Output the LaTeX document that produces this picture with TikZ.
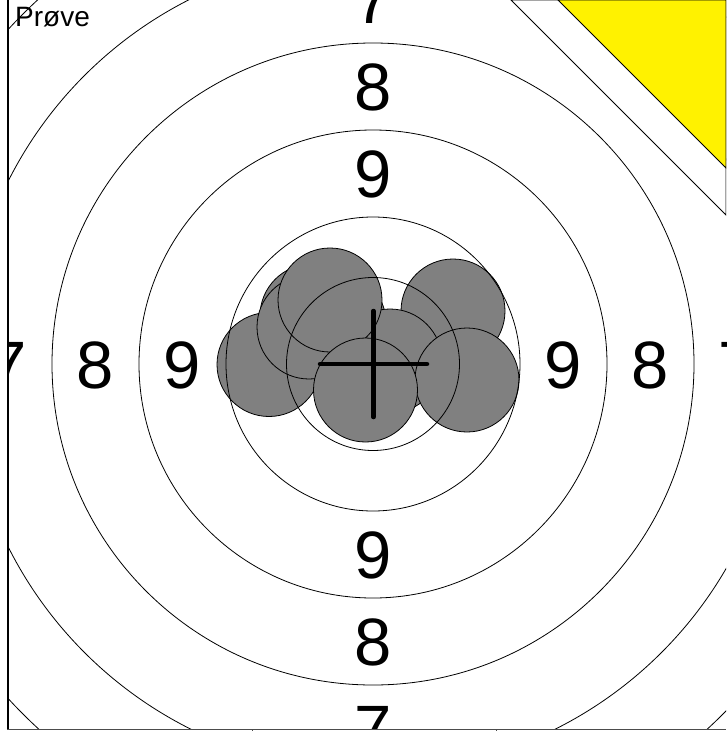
\documentclass[tikz,border=0pt]{standalone}
\usepackage{fontspec}
\setmainfont{Liberation Sans}
\begin{document}
\begin{tikzpicture}[x=1pt,y=-1pt,
  ring/.style={draw=black,line width=0.8pt},
  shot/.style={fill=gray,draw=black,line width=0.8pt},
  score/.style={anchor=base,inner sep=0pt,font=\fontsize{67}{67}\selectfont},
  crossline/.style={line width=4.5pt,line cap=round},
  cornerband/.style={line width=0.8pt,draw=black}]
\useasboundingbox (0,0) rectangle (726,731);
\begin{scope}
\clip (8,0) rectangle (726,729);
% shots
\foreach \x/\y in {269/364.5, 334/323, 312/316, 309/327, 453/311, 390/361, 467/380, 330/300, 365.5/390}
  \draw[shot] (\x,\y) circle[radius=52];
% rings
\foreach \r in {86.5,147,234,321,408,495}
  \draw[ring] (373,364) circle[radius=\r];
% cross
\coordinate (ct) at (373.5,311);
\coordinate (cb) at (373.5,417);
\coordinate (cl) at (320,364);
\coordinate (cr) at (427,364);
\draw[crossline] (ct) -- (cb);
\draw[crossline] (cl) -- (cr);
% scores
\node[score] (t7) at (373,23.5) {7};
\node[score] (t8) at (373,110.5) {8};
\node[score] (t9) at (373,197.5) {9};
\node[score] (b9) at (373,578.5) {9};
\node[score] (b8) at (373,665.5) {8};
\node[score] (b7) at (373,752.5) {7};
\node[score] (l7) at (8.5,388) {7};
\node[score] (l8) at (95.5,388) {8};
\node[score] (l9) at (182.5,388) {9};
\node[score] (r9) at (563.5,388) {9};
\node[score] (r8) at (650.5,388) {8};
\node[score] (r7) at (737.5,388) {7};
% corner
\draw[cornerband,fill=white] (511,0) -- (726,215) -- (726,0) -- cycle;
\draw[cornerband,fill=yellow] (558,0) -- (726,168) -- (726,0) -- cycle;
% label
\node[anchor=base west,inner sep=0pt,font=\fontsize{28}{28}\selectfont] (lbl) at (15,26) {Prøve};
\end{scope}
% frame
\draw[line width=2pt] (7.5,0) -- (7.5,730);
\draw[line width=1.5pt,black!70] (7,729.5) -- (726,729.5);
\draw[line width=1pt,black!70] (252,729.5) -- (252,731);
\draw[line width=1pt,black!70] (496,729.5) -- (496,731);
\end{tikzpicture}
\end{document}
